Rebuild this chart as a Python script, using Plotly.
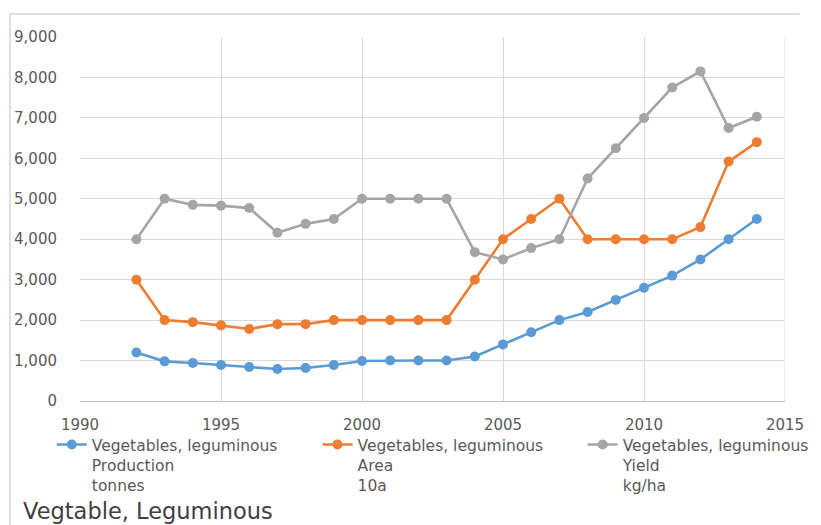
import plotly.graph_objects as go

years = list(range(1992, 2015))

production_tonnes = [1200, 980, 940, 890, 840, 790, 815, 890, 990, 1000, 1000, 1000,
                     1100, 1400, 1700, 2000, 2200, 2500, 2800, 3100, 3500, 4000, 4500]
area_10a = [3000, 2000, 1950, 1870, 1780, 1900, 1900, 2000, 2000, 2000, 2000, 2000,
            3000, 4000, 4500, 5000, 4000, 4000, 4000, 4000, 4300, 5920, 6400]
yield_kg_ha = [4000, 5000, 4850, 4830, 4770, 4160, 4380, 4500, 5000, 5000, 5000, 5000,
               3680, 3500, 3780, 4000, 5500, 6250, 7000, 7750, 8150, 6750, 7030]

series_names = [
    "Vegetables, leguminous<br>Production<br>tonnes",
    "Vegetables, leguminous<br>Area<br>10a",
    "Vegetables, leguminous<br>Yield<br>kg/ha",
]
series_colors = ["#5B9BD5", "#ED7D31", "#A5A5A5"]
x_ticks = [1990, 1995, 2000, 2005, 2010, 2015]
y_ticks = list(range(0, 9001, 1000))
chart_title = "Vegtable, Leguminous"

FONT = "DejaVu Sans, Verdana, sans-serif"
legend_ids = ["legend", "legend2", "legend3"]
legend_x = [-0.040, 0.337, 0.713]

fig = go.Figure()
for name, values, color, lg in zip(series_names, [production_tonnes, area_10a, yield_kg_ha],
                                   series_colors, legend_ids):
    fig.add_trace(go.Scatter(
        x=years, y=values, name=name, mode="lines+markers",
        line=dict(color=color, width=2.6),
        marker=dict(color=color, size=10),
        legend=lg,
    ))

legend_style = dict(
    y=-0.074, xanchor="left", yanchor="top", valign="top",
    font=dict(family=FONT, size=15.5, color="#595959"),
    bgcolor="rgba(0,0,0,0)",
)

fig.update_layout(
    width=821, height=525,
    margin=dict(l=80, r=36, t=37, b=124, autoexpand=False),
    paper_bgcolor="white", plot_bgcolor="white",
    font=dict(family=FONT, color="#595959"),
    showlegend=True,
    legend=dict(x=legend_x[0], **legend_style),
    legend2=dict(x=legend_x[1], **legend_style),
    legend3=dict(x=legend_x[2], **legend_style),
    xaxis=dict(
        range=[1990, 2015], tickvals=x_ticks, showgrid=True, gridcolor="#D9D9D9",
        gridwidth=1, zeroline=False, showline=True, linecolor="#BFBFBF", linewidth=1,
        tickfont=dict(family=FONT, size=15, color="#595959"), ticklabelstandoff=10,
    ),
    yaxis=dict(
        range=[0, 9000], tickvals=y_ticks, tickformat=",", showgrid=True,
        gridcolor="#D9D9D9", gridwidth=1, zeroline=False, showline=False,
        tickfont=dict(family=FONT, size=15, color="#595959"), ticklabelstandoff=22,
    ),
    annotations=[dict(
        text=chart_title, xref="paper", yref="paper", x=-0.083, y=-0.302,
        xanchor="left", yanchor="middle", showarrow=False,
        font=dict(family=FONT, size=22.5, color="#404040"),
    )],
    shapes=[
        # outer chart frame: top and left edges
        dict(type="line", xref="paper", yref="paper", x0=-0.0993, x1=1.021,
             y0=1.063, y1=1.063, line=dict(color="#D4D4D4", width=1.5)),
        dict(type="line", xref="paper", yref="paper", x0=-0.0993, x1=-0.0993,
             y0=1.063, y1=-0.35, line=dict(color="#D4D4D4", width=1.5)),
        # right grid edge at 2015
        dict(type="line", xref="x", yref="paper", x0=2015, x1=2015, y0=0, y1=1,
             line=dict(color="#D9D9D9", width=1), layer="below"),
    ],
)

fig.write_html("out.html")
